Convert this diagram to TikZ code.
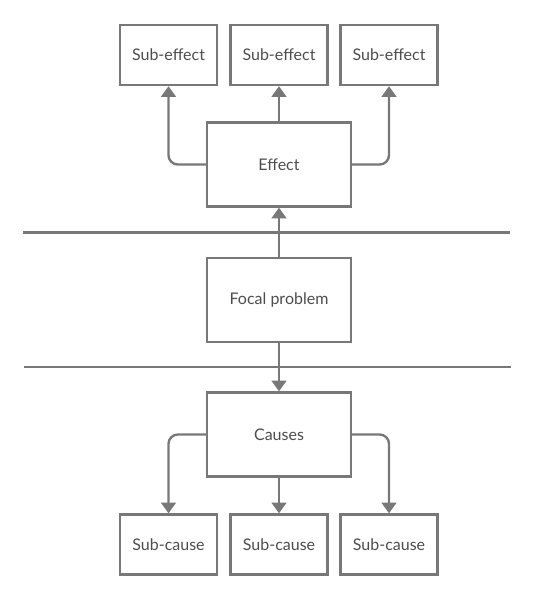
\documentclass[tikz,border=0pt]{standalone}
\usepackage{fontspec}
\setmainfont{Lato}
\usepackage{tikz}
\usetikzlibrary{arrows.meta}
\definecolor{LineGrey}{HTML}{787878}
\definecolor{TextGrey}{HTML}{4D4D4D}

\begin{document}
\begin{tikzpicture}[x=0.75pt, y=-0.75pt,
    box/.style={draw=LineGrey, line width=1.8pt, fill=white, text=TextGrey, font=\fontsize{12}{14}\selectfont, inner sep=0pt},
    subbox/.style={box, minimum width=73pt, minimum height=45pt},
    mainbox/.style={box, minimum width=108pt, minimum height=63pt},
    link/.style={draw=LineGrey, line width=1.8pt, rounded corners=7pt, -{Triangle[width=11pt, length=8pt]}},
    band/.style={draw=LineGrey, line width=1.8pt}]
    \useasboundingbox[fill=white] (0,0) rectangle (536,600);
    % separator lines
    \coordinate (bandTL) at (23,232.5);
    \coordinate (bandTR) at (510,232.5);
    \coordinate (bandBL) at (24,367);
    \coordinate (bandBR) at (511,367);
    \draw[band] (bandTL) -- (bandTR);
    \draw[band] (bandBL) -- (bandBR);
    % effects
    \node[subbox] (subeffA) at (168.5,55) {Sub-effect};
    \node[subbox] (subeffB) at (279,55) {Sub-effect};
    \node[subbox] (subeffC) at (389,55) {Sub-effect};
    \node[mainbox] (effect) at (279,164.5) {Effect};
    % focal problem
    \node[mainbox] (focal) at (279,300) {Focal problem};
    % causes
    \node[mainbox] (causes) at (279,434.5) {Causes};
    \node[subbox] (subcauA) at (168.5,544.5) {Sub-cause};
    \node[subbox] (subcauB) at (279,544.5) {Sub-cause};
    \node[subbox] (subcauC) at (389,544.5) {Sub-cause};
    % connectors
    \draw[link] (effect.west) -| (subeffA.south);
    \draw[link] (effect.north) -- (subeffB.south);
    \draw[link] (effect.east) -| (subeffC.south);
    \draw[link] (focal.north) -- (effect.south);
    \draw[link] (focal.south) -- (causes.north);
    \draw[link] (causes.west) -| (subcauA.north);
    \draw[link] (causes.south) -- (subcauB.north);
    \draw[link] (causes.east) -| (subcauC.north);
\end{tikzpicture}
\end{document}
